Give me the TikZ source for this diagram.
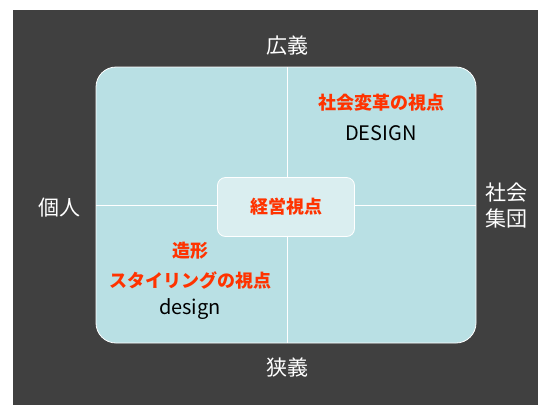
\documentclass[tikz,border=0pt]{standalone}
\usepackage{fontspec}
\setmainfont{Noto Sans CJK JP}
\definecolor{bgdark}{RGB}{64,64,64}
\definecolor{panel}{RGB}{185,224,228}
\definecolor{centerfill}{RGB}{218,238,240}
\definecolor{redtxt}{RGB}{255,51,0}
\tikzset{
  axislabel/.style={text=white,font=\fontsize{21}{26}\selectfont,align=center,inner sep=0pt},
  redlabel/.style={text=redtxt,font=\fontsize{18}{20}\selectfont\bfseries,inner sep=0pt},
  blacklabel/.style={text=black,font=\fontsize{20}{22}\selectfont,inner sep=0pt},
  divider/.style={draw=white,line width=0.8pt}
}
\begin{document}
\begin{tikzpicture}[x=1pt,y=-1pt]
\useasboundingbox (0,0) rectangle (538,405);
\fill[white] (0,0) rectangle (538,405);
\fill[bgdark] (13,10) rectangle (538,405);
\node[draw=white,line width=0.8pt,fill=panel,rounded corners=20pt,minimum width=380pt,minimum height=276pt,inner sep=0pt] (panel) at (286,205) {};
\coordinate (ptop) at (287,67);
\coordinate (pbot) at (287,343);
\coordinate (pleft) at (96,205);
\coordinate (pright) at (476,205);
\draw[divider] (ptop) -- (pbot);
\draw[divider] (pleft) -- (pright);
\node[draw=white,line width=0.8pt,fill=centerfill,rounded corners=8pt,minimum width=137pt,minimum height=59pt,inner sep=0pt] (center) at (286,207) {};
\node[redlabel] (keiei) at (center) {経営視点};
\node[axislabel] (kougi) at (287,46) {広義};
\node[axislabel] (kyougi) at (287,368) {狭義};
\node[axislabel] (kojin) at (59,208) {個人};
\node[axislabel] (shakai) at (506,206) {社会\\集団};
\node[redlabel] (henkaku) at (381,103) {社会変革の視点};
\node[blacklabel] (DESIGN) at (381,133) {DESIGN};
\node[redlabel] (zoukei) at (190,251) {造形};
\node[redlabel] (styling) at (190,280) {スタイリングの視点};
\node[blacklabel] (design) at (190,309) {design};
\end{tikzpicture}
\end{document}
